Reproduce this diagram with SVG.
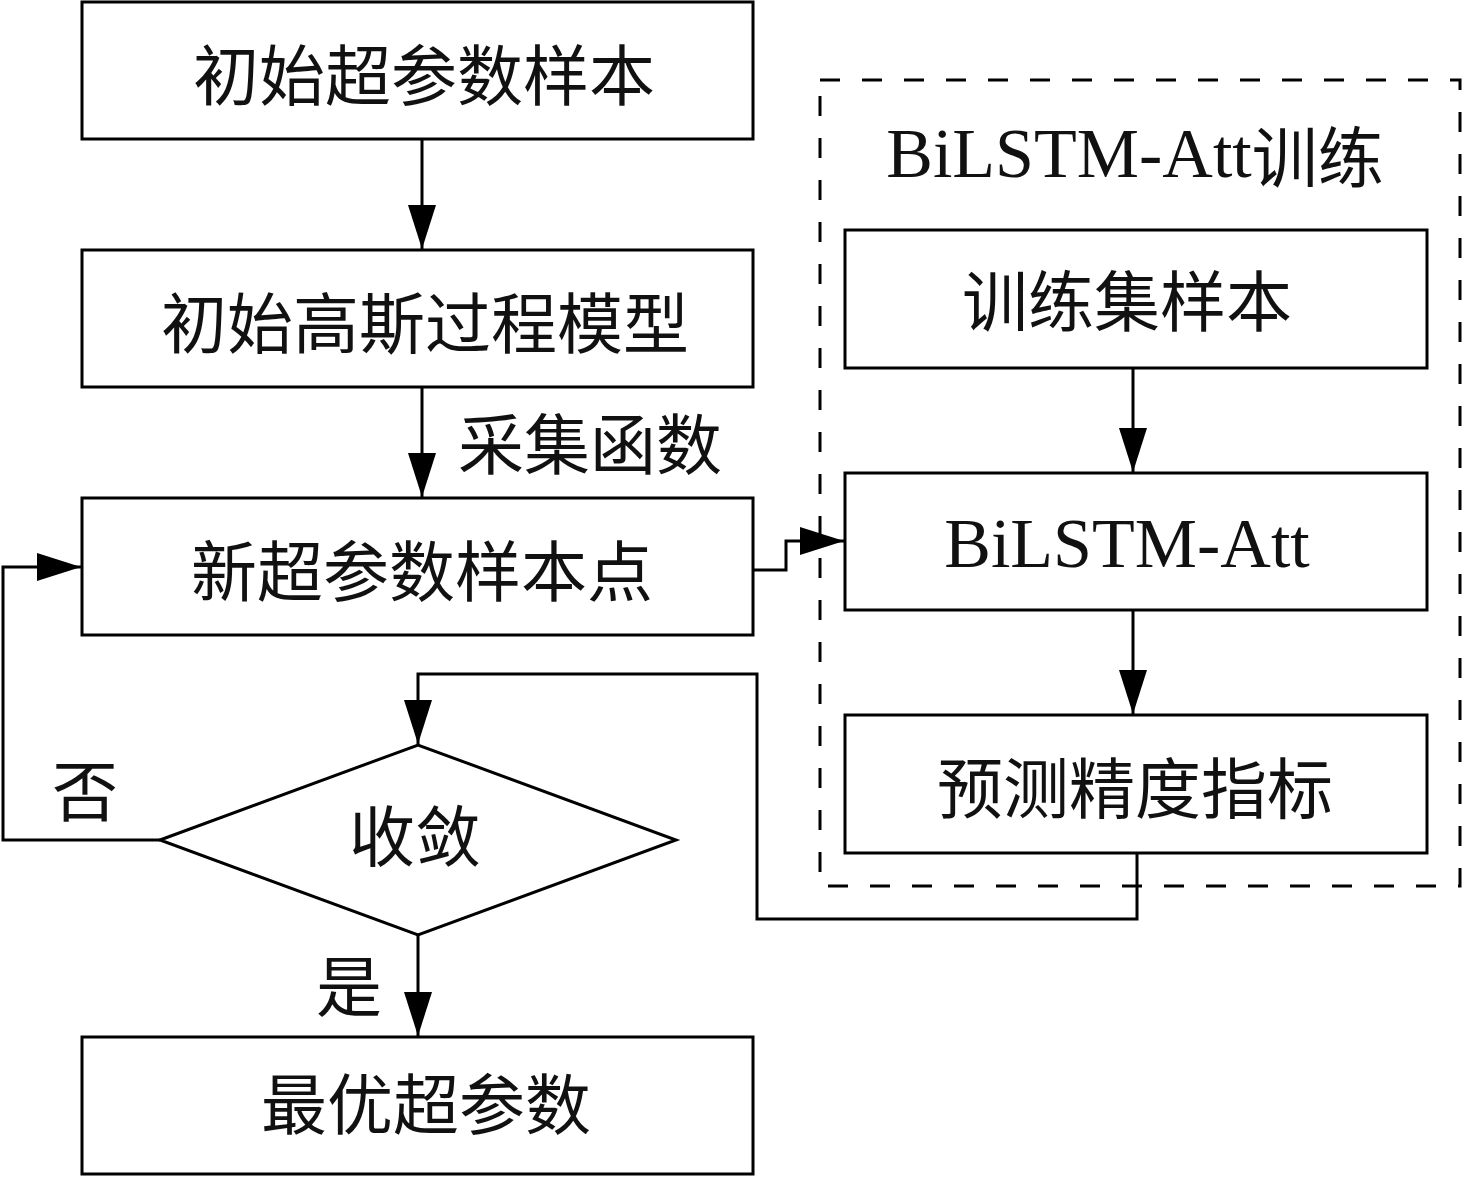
<svg xmlns="http://www.w3.org/2000/svg" width="1462" height="1178" viewBox="0 0 1462 1178">
<style>
.box{fill:#fff;stroke:#000;stroke-width:3}
.edge{fill:none;stroke:#000;stroke-width:3}
.t{font-family:"Noto Sans CJK SC","Liberation Serif",sans-serif;font-size:66px;fill:#111;text-anchor:middle;dominant-baseline:central}
.lat{font-family:"Liberation Serif","Noto Sans CJK SC",serif;font-size:70px;fill:#111;text-anchor:middle;dominant-baseline:central}
</style>
<defs>
<marker id="arr" viewBox="0 0 44 28" markerWidth="44" markerHeight="28" refX="44" refY="14" orient="auto" markerUnits="userSpaceOnUse">
<path d="M0,0 L44,14 L0,28 z" fill="#000"/>
</marker>
</defs>
<rect width="1462" height="1178" fill="#fff"/>
<g id="group-bilstm">
<rect x="820" y="80" width="640" height="806" fill="none" stroke="#000" stroke-width="3" stroke-dasharray="20 22"/>
<text x="1135" y="153" class="lat">BiLSTM-Att<tspan style="font-family:'Noto Sans CJK SC',sans-serif;font-size:66px">训练</tspan></text>
</g>
<g id="connectors">
<line class="edge" x1="422" y1="139" x2="422" y2="249" marker-end="url(#arr)"/>
<line class="edge" x1="422" y1="387" x2="422" y2="497" marker-end="url(#arr)"/>
<polyline class="edge" points="753,570 786,570 786,541 844,541" marker-end="url(#arr)"/>
<line class="edge" x1="1133" y1="368" x2="1133" y2="472" marker-end="url(#arr)"/>
<line class="edge" x1="1133" y1="610" x2="1133" y2="714" marker-end="url(#arr)"/>
<polyline class="edge" points="1137,853 1137,919 757,919 757,674 418,674 418,744" marker-end="url(#arr)"/>
<polyline class="edge" points="160,840 3,840 3,567 81,567" marker-end="url(#arr)"/>
<line class="edge" x1="418" y1="935" x2="418" y2="1036" marker-end="url(#arr)"/>
<text x="590" y="440" class="t">采集函数</text>
<text x="85" y="787" class="t">否</text>
<text x="349" y="982" class="t">是</text>
</g>
<g id="node-init-sample">
<rect class="box" x="82" y="2" width="671" height="137"/>
<text x="424" y="71" class="t">初始超参数样本</text>
</g>
<g id="node-init-gp">
<rect class="box" x="82" y="250" width="671" height="137"/>
<text x="425" y="319" class="t">初始高斯过程模型</text>
</g>
<g id="node-new-sample">
<rect class="box" x="82" y="498" width="671" height="137"/>
<text x="422" y="567" class="t">新超参数样本点</text>
</g>
<g id="node-converge">
<polygon class="box" points="160,840 418,745 676,840 418,935"/>
<text x="415" y="832" class="t">收敛</text>
</g>
<g id="node-best">
<rect class="box" x="82" y="1037" width="671" height="137"/>
<text x="426" y="1100" class="t">最优超参数</text>
</g>
<g id="node-train-set">
<rect class="box" x="845" y="230" width="582" height="138"/>
<text x="1127" y="297" class="t">训练集样本</text>
</g>
<g id="node-bilstm">
<rect class="box" x="845" y="473" width="582" height="137"/>
<text x="1127" y="543" class="lat">BiLSTM-Att</text>
</g>
<g id="node-metric">
<rect class="box" x="845" y="715" width="582" height="138"/>
<text x="1135" y="784" class="t">预测精度指标</text>
</g>
</svg>
